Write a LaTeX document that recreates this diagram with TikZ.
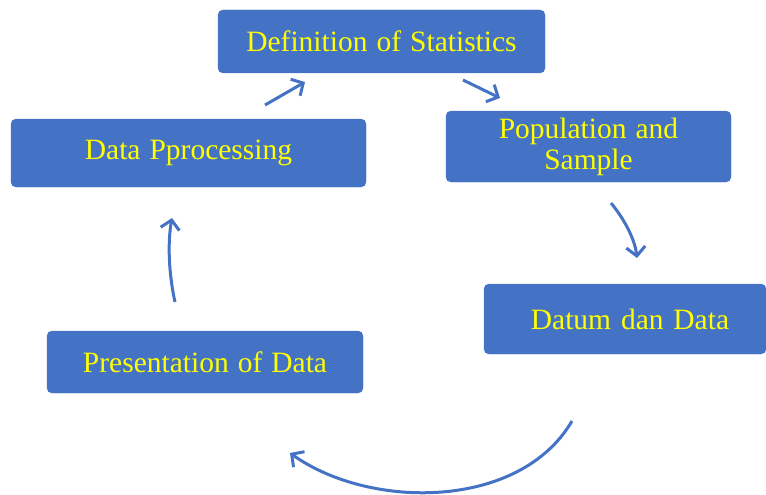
\documentclass[tikz,border=0pt]{standalone}
\usepackage{fontspec}
\setmainfont{Liberation Serif}
\usepackage{tikz}
\usetikzlibrary{arrows.meta,positioning}
\definecolor{boxblue}{HTML}{4472C4}
\definecolor{textyellow}{HTML}{FFFF00}
\newcommand{\blockfont}{\fontsize{29.5}{31}\selectfont\spaceskip=9pt plus 2pt\relax}

\begin{document}
\begin{tikzpicture}[
    x=1pt, y=-1pt,
    block/.style={rectangle, fill=boxblue, draw=boxblue, rounded corners=5pt,
                align=center, text=textyellow, inner sep=0pt,
                font=\blockfont},
    flow/.style={draw=boxblue, line width=3pt,
                -{Straight Barb[length=9pt,width=19pt,line width=3pt]}}
]
\useasboundingbox (0,0) rectangle (766,495);
\node[block, minimum width=327pt, minimum height=63pt] (defn) at (381.5,41.5) {Definition of Statistics};
\node[block, minimum width=285pt, minimum height=71pt] (popul) at (588.5,146.5) {Population and\\Sample};
\node[block, minimum width=282pt, minimum height=70pt, text width=262pt] (datum) at (625,319) {\hspace*{10pt}Datum dan Data};
\node[block, minimum width=316pt, minimum height=62pt] (present) at (205,362) {Presentation of Data};
\node[block, minimum width=355pt, minimum height=68pt] (process) at (188.5,153) {Data Pprocessing};

% free ends of the arrows
\coordinate (a1s) at (265,105);
\coordinate (a1e) at (305,82);
\coordinate (a2s) at (463,80);
\coordinate (a2e) at (500,98);
\coordinate (a3s) at (611,203);
\coordinate (a3e) at (637,258);
\coordinate (a4s) at (572,421);
\coordinate (a4e) at (290,453);
\coordinate (a5s) at (175,302);
\coordinate (a5e) at (172,218);

\draw[flow] (a1s) -- (a1e);
\draw[flow] (a2s) -- (a2e);
\draw[flow] (a3s) .. controls (625,220) and (635,240) .. (a3e);
\draw[flow] (a4s) .. controls (520,510) and (370,510) .. (a4e);
\draw[flow] (a5s) .. controls (168,270) and (168,240) .. (a5e);
\end{tikzpicture}
\end{document}
